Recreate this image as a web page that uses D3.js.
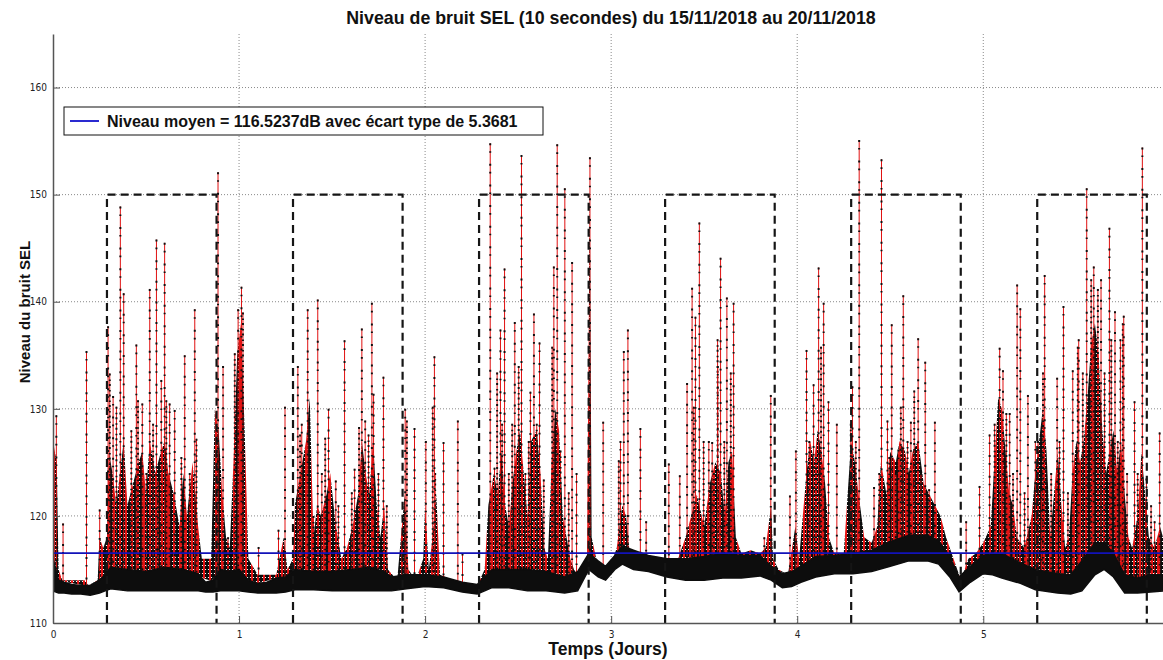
<!DOCTYPE html>
<html>
<head>
<meta charset="utf-8">
<script src="https://cdn.jsdelivr.net/npm/d3@7"></script>
<style>
  body { margin: 0; background: #fff; }
  svg { display: block; }
  .tick text { font-family: "Liberation Sans Narrow", "DejaVu Sans Condensed", sans-serif; font-size: 10px; fill: #222; }
</style>
</head>
<body>
<div id="chart"></div>
<script>
// axis ticks
var dayTicks = [0, 1, 2, 3, 4, 5];
var levelTicks = [110, 120, 130, 140, 150, 160];
var meanLevel = 116.5237;
var legendLabel = "Niveau moyen = 116.5237dB avec écart type de 5.3681";

// daytime windows (dashed boxes), in days
var boxStart = [0.29, 1.29, 2.29, 3.29, 4.29, 5.29];
var boxEnd = [0.879, 1.879, 2.879, 3.879, 4.879, 5.879];
var boxLevel = 150;

// lower / upper edge of the solid background band (dB)
var baseT = [0.00, 0.03, 0.06, 0.10, 0.15, 0.20, 0.25, 0.28, 0.31, 0.40, 0.50, 0.60, 0.70, 0.78, 0.82, 0.86, 0.90, 0.95, 1.00, 1.05,
  1.10, 1.15, 1.20, 1.25, 1.30, 1.40, 1.50, 1.60, 1.70, 1.78, 1.82, 1.90, 2.00, 2.10, 2.20, 2.28, 2.32, 2.36, 2.45, 2.55,
  2.65, 2.75, 2.82, 2.88, 2.93, 2.97, 3.02, 3.06, 3.12, 3.20, 3.30, 3.40, 3.50, 3.60, 3.70, 3.80, 3.86, 3.92, 3.97, 4.02,
  4.10, 4.20, 4.30, 4.40, 4.50, 4.60, 4.70, 4.76, 4.82, 4.87, 4.93, 5.00, 5.05, 5.10, 5.20, 5.28, 5.40, 5.47, 5.53, 5.60,
  5.65, 5.70, 5.76, 5.83, 5.90, 5.966];
var baseLo = [113.0, 112.8, 112.8, 112.7, 112.7, 112.6, 112.8, 113.0, 113.2, 113.0, 113.0, 113.0, 113.0, 113.0, 112.9, 112.9, 113.0, 113.0, 113.0, 112.9,
  112.8, 112.8, 112.8, 112.9, 113.1, 113.1, 113.0, 113.0, 113.0, 113.0, 113.0, 113.2, 113.4, 113.3, 112.9, 112.7, 113.0, 113.3, 113.3, 113.0,
  113.0, 112.8, 113.0, 115.0, 114.3, 114.0, 115.0, 115.5, 115.0, 114.8, 114.3, 114.0, 114.0, 114.2, 114.2, 114.4, 114.0, 113.3, 113.4, 113.8,
  114.3, 114.6, 114.6, 114.8, 115.3, 115.8, 115.8, 115.5, 114.3, 112.9, 113.8, 114.6, 114.5, 114.2, 113.7, 113.1, 112.8, 112.7, 113.0, 114.5,
  115.0, 114.3, 112.8, 112.8, 112.9, 113.0];
var baseHi = [116.0, 114.0, 113.8, 113.6, 113.5, 113.5, 114.0, 114.5, 115.2, 115.0, 114.8, 115.2, 115.0, 114.6, 113.8, 114.0, 115.0, 114.8, 115.0, 114.0,
  113.7, 113.8, 114.2, 114.3, 115.0, 114.8, 114.8, 115.0, 115.2, 114.8, 114.3, 114.5, 114.5, 114.3, 113.8, 113.6, 114.3, 115.0, 115.0, 115.0,
  114.8, 114.3, 114.8, 116.5, 115.8, 115.3, 116.3, 117.2, 116.8, 116.3, 116.0, 116.0, 116.2, 116.5, 116.3, 116.3, 115.3, 114.6, 114.8, 115.3,
  116.2, 116.3, 116.5, 116.8, 117.6, 118.2, 118.2, 117.7, 116.2, 114.3, 115.3, 116.3, 116.5, 116.5, 115.6, 115.0, 114.6, 114.5, 115.8, 117.5,
  117.5, 116.5, 114.5, 114.2, 114.5, 114.5];

// top of the dense bursts of activity (dB)
var actT = [0.00, 0.02, 0.03, 0.05, 0.17, 0.19, 0.24, 0.25, 0.27, 0.29, 0.30, 0.32, 0.34, 0.36, 0.38, 0.40, 0.43, 0.46, 0.48, 0.50,
  0.52, 0.55, 0.58, 0.60, 0.62, 0.65, 0.68, 0.70, 0.72, 0.75, 0.78, 0.80, 0.85, 0.87, 0.89, 0.91, 0.93, 0.95, 0.97, 0.99,
  1.01, 1.03, 1.05, 1.10, 1.20, 1.24, 1.26, 1.29, 1.30, 1.33, 1.36, 1.38, 1.40, 1.42, 1.44, 1.47, 1.49, 1.52, 1.55, 1.58,
  1.61, 1.64, 1.66, 1.68, 1.70, 1.72, 1.74, 1.76, 1.78, 1.80, 1.85, 1.89, 1.91, 1.95, 1.99, 2.00, 2.02, 2.04, 2.06, 2.08,
  2.15, 2.20, 2.28, 2.32, 2.34, 2.37, 2.39, 2.41, 2.43, 2.45, 2.47, 2.49, 2.51, 2.53, 2.55, 2.57, 2.60, 2.62, 2.64, 2.66,
  2.68, 2.70, 2.72, 2.74, 2.76, 2.78, 2.80, 2.84, 2.87, 2.885, 2.895, 2.92, 2.95, 2.97, 3.00, 3.03, 3.06, 3.08, 3.10, 3.15,
  3.25, 3.30, 3.35, 3.40, 3.43, 3.46, 3.50, 3.53, 3.56, 3.59, 3.61, 3.63, 3.65, 3.67, 3.70, 3.75, 3.80, 3.83, 3.86, 3.87,
  3.90, 3.95, 3.99, 4.01, 4.03, 4.05, 4.07, 4.09, 4.11, 4.13, 4.15, 4.17, 4.20, 4.25, 4.29, 4.31, 4.33, 4.36, 4.40, 4.43,
  4.45, 4.48, 4.50, 4.53, 4.55, 4.58, 4.60, 4.62, 4.65, 4.68, 4.71, 4.74, 4.77, 4.80, 4.85, 4.88, 4.92, 4.96, 5.00, 5.04,
  5.06, 5.08, 5.10, 5.12, 5.14, 5.16, 5.18, 5.22, 5.26, 5.28, 5.30, 5.32, 5.34, 5.36, 5.38, 5.40, 5.42, 5.44, 5.46, 5.48,
  5.50, 5.52, 5.54, 5.56, 5.58, 5.60, 5.62, 5.64, 5.66, 5.68, 5.70, 5.72, 5.74, 5.76, 5.78, 5.80, 5.83, 5.85, 5.87, 5.89,
  5.92, 5.95, 5.966];
var actTop = [127, 125, 115, 114, 114, 113.5, 114, 118, 117, 118, 126, 124, 121, 124, 127, 121, 123, 125, 126, 122,
  127, 124, 126, 127, 124, 122, 119, 124, 120, 125, 119, 116, 116, 130, 128, 122, 118, 117, 125, 135,
  138, 128, 116, 114.5, 114.5, 118, 115, 116, 121, 124, 127, 131, 118, 121, 120, 122, 124, 119, 116, 117,
  119, 122, 127, 124, 122, 127, 121, 118, 121, 115, 114, 122, 115, 114, 116, 121, 115, 118, 122, 114.5,
  114, 113.5, 113.5, 115, 121, 124, 122, 126, 121, 119, 123, 126, 128, 124, 120, 127, 128, 124, 117, 116,
  125, 130, 128, 120, 118, 116, 115, 114, 116, 150, 118, 116, 115, 114.5, 115.5, 117, 121, 120, 116.5, 116,
  115.5, 116, 115.5, 118, 120, 122, 119, 123, 125, 124, 120, 125, 126, 118, 116.5, 116.8, 116.5, 117, 121, 116,
  115, 114.5, 119, 116, 120, 124, 127, 125, 128, 126, 123, 118, 116.5, 116.5, 127, 125, 122, 118, 117.5, 119,
  125, 122, 126, 125, 127, 126, 124, 126, 127, 123, 122, 121, 120, 118, 115.5, 114, 116, 116.5, 117.5, 119,
  125, 131, 130, 126, 122, 121, 118, 117, 120, 124, 127, 130, 126, 118, 122, 126, 121, 117, 118, 124,
  127, 125, 127, 131, 136, 138, 135, 128, 124, 126, 128, 124, 127, 122, 118, 117, 120, 126, 122, 118,
  117, 119, 118];

// main peaks: time (days) and peak level (dB)
var spikeT = [0.018, 0.054, 0.180, 0.251, 0.296, 0.323, 0.362, 0.380, 0.448, 0.480, 0.520, 0.556, 0.582, 0.600, 0.627, 0.654, 0.708, 0.762, 0.887, 0.914,
  0.995, 1.013, 1.105, 1.212, 1.247, 1.316, 1.337, 1.369, 1.423, 1.445, 1.481, 1.520, 1.567, 1.621, 1.660, 1.678, 1.714, 1.723, 1.776, 1.893,
  1.943, 2.004, 2.050, 2.099, 2.176, 2.201, 2.350, 2.373, 2.405, 2.427, 2.482, 2.518, 2.566, 2.585, 2.615, 2.692, 2.710, 2.751, 2.790, 2.814,
  2.886, 2.957, 3.050, 3.068, 3.090, 3.157, 3.188, 3.310, 3.369, 3.408, 3.435, 3.453, 3.474, 3.525, 3.543, 3.573, 3.588, 3.622, 3.658, 3.823,
  3.858, 3.961, 3.993, 4.050, 4.088, 4.115, 4.142, 4.168, 4.213, 4.297, 4.333, 4.413, 4.453, 4.485, 4.508, 4.544, 4.570, 4.611, 4.650, 4.688,
  4.740, 4.908, 4.980, 5.034, 5.088, 5.106, 5.142, 5.182, 5.199, 5.240, 5.280, 5.312, 5.330, 5.397, 5.431, 5.481, 5.513, 5.556, 5.594, 5.633,
  5.678, 5.708, 5.737, 5.755, 5.773, 5.813, 5.855, 5.877, 5.921, 5.948];
var spikeTop = [129.4, 119.3, 135.4, 120.6, 137.7, 131.2, 148.9, 140.8, 136.0, 130.5, 141.2, 145.8, 132.7, 145.5, 130.5, 129.9, 135.0, 139.3, 152.1, 134.0,
  139.3, 141.4, 117.1, 118.7, 130.2, 134.0, 128.6, 139.3, 140.2, 124.0, 130.0, 123.3, 136.4, 124.4, 137.5, 128.9, 139.9, 131.4, 133.0, 130.0,
  128.2, 127.0, 134.9, 126.9, 128.9, 116.5, 154.8, 124.5, 137.4, 143.1, 138.1, 153.7, 131.6, 138.9, 136.2, 143.3, 154.7, 150.6, 143.7, 124.0,
  153.5, 128.8, 127.0, 135.4, 137.4, 128.2, 119.5, 124.9, 123.8, 132.4, 141.3, 138.6, 147.4, 127.0, 126.9, 134.0, 144.1, 140.4, 139.9, 118.0,
  131.3, 121.9, 126.1, 135.5, 132.3, 143.2, 139.9, 130.7, 128.6, 132.1, 155.1, 122.7, 153.3, 128.9, 137.9, 126.2, 140.6, 128.8, 136.6, 134.4,
  128.8, 119.5, 122.8, 127.6, 135.7, 133.6, 129.6, 141.6, 139.4, 131.3, 127.0, 122.5, 142.5, 132.9, 139.6, 133.6, 136.5, 150.6, 143.3, 142.1,
  146.9, 139.1, 136.5, 138.7, 124.0, 130.7, 154.4, 123.5, 119.5, 127.8];

// smaller peaks inside the bursts
var minorT = [0.305, 0.341, 0.421, 0.457, 0.502, 0.538, 0.565, 0.609, 0.690, 0.735, 0.771, 0.941, 0.977, 1.021, 1.328, 1.400, 1.463, 1.534, 1.606, 1.645,
  1.696, 1.749, 1.794, 1.902, 2.041, 2.054, 2.387, 2.414, 2.450, 2.468, 2.503, 2.539, 2.557, 2.600, 2.638, 2.683, 2.728, 2.772, 3.041, 3.444,
  3.497, 3.552, 3.572, 3.608, 3.643, 4.065, 4.101, 4.128, 4.288, 4.315, 4.441, 4.495, 4.530, 4.557, 4.593, 4.629, 4.665, 4.709, 5.061, 5.124,
  5.160, 5.222, 5.294, 5.321, 5.365, 5.410, 5.455, 5.508, 5.535, 5.580, 5.616, 5.652, 5.688, 5.723, 5.750, 5.830, 5.902];
var minorTop = [133.3, 130.2, 128.0, 130.8, 124.0, 128.6, 123.4, 130.8, 125.5, 124.0, 127.2, 118.0, 135.2, 139.0, 127.6, 120.0, 127.3, 121.0, 122.2, 128.3,
  127.6, 124.0, 121.0, 128.9, 130.2, 124.0, 133.4, 128.6, 124.0, 128.6, 134.0, 124.0, 127.0, 128.6, 123.4, 135.8, 126.1, 122.2, 125.2, 130.2,
  127.0, 124.0, 136.5, 127.0, 133.4, 127.0, 125.5, 135.8, 128.6, 127.0, 124.0, 125.5, 124.0, 130.2, 127.0, 131.7, 124.0, 122.5, 128.6, 129.6,
  124.0, 122.2, 127.0, 133.4, 124.0, 127.0, 122.2, 135.8, 133.4, 142.1, 141.2, 133.4, 136.5, 127.0, 138.0, 124.0, 121.0];

var svgWidth = 1163;
var svgHeight = 660;
var margin = { top: 34, right: 0, bottom: 37, left: 53 };
var width = svgWidth - margin.left - margin.right;
var height = svgHeight - margin.top - margin.bottom;

var svg = d3.select("#chart").append("svg")
  .attr("width", svgWidth)
  .attr("height", svgHeight);

var defs = svg.append("defs");
var pat = defs.append("pattern")
  .attr("id", "burst")
  .attr("patternUnits", "userSpaceOnUse")
  .attr("width", 6)
  .attr("height", 4);
pat.append("rect").attr("x", 0).attr("y", 0).attr("width", 2).attr("height", 4).attr("fill", "#e41414");
pat.append("rect").attr("x", 2).attr("y", 0).attr("width", 4).attr("height", 3).attr("fill", "#0c0c0c");
pat.append("rect").attr("x", 3).attr("y", 3).attr("width", 2).attr("height", 1).attr("fill", "#1c1c1c");

var clip = defs.append("clipPath").attr("id", "plotclip");
clip.append("rect").attr("width", width).attr("height", height);

var chartGroup = svg.append("g")
  .attr("transform", `translate(${margin.left}, ${margin.top})`);

var xLinearScale = d3.scaleLinear().domain([0, 5.966]).range([0, width]);
var yLinearScale = d3.scaleLinear().domain([110, 165]).range([height, 0]);

// grid
chartGroup.append("g").selectAll("line")
  .data(dayTicks.slice(1))
  .enter().append("line")
  .attr("x1", (d) => xLinearScale(d)).attr("x2", (d) => xLinearScale(d))
  .attr("y1", 0).attr("y2", height)
  .attr("stroke", "#8a8a8a").attr("stroke-width", 1).attr("stroke-dasharray", "1,2");
chartGroup.append("g").selectAll("line")
  .data(levelTicks.slice(1))
  .enter().append("line")
  .attr("x1", 0).attr("x2", width)
  .attr("y1", (d) => yLinearScale(d)).attr("y2", (d) => yLinearScale(d))
  .attr("stroke", "#8a8a8a").attr("stroke-width", 1).attr("stroke-dasharray", "1,2");

var dataGroup = chartGroup.append("g").attr("clip-path", "url(#plotclip)");

var baseRows = baseT.map((t, i) => ({ t: t, lo: baseLo[i], hi: baseHi[i] }));
var actRows = actT.map((t, i) => ({ t: t, top: actTop[i] }));
var bisect = d3.bisector((d) => d.t).left;
function baseAt(t) {
  var i = Math.max(1, Math.min(baseRows.length - 1, bisect(baseRows, t)));
  var a = baseRows[i - 1], b = baseRows[i];
  var k = (t - a.t) / (b.t - a.t);
  return a.hi + (b.hi - a.hi) * k;
}

// bursts of activity
var actArea = d3.area()
  .x((d) => xLinearScale(d.t))
  .y0((d) => yLinearScale(Math.min(baseAt(d.t), d.top)))
  .y1((d) => yLinearScale(d.top));
dataGroup.append("path")
  .datum(actRows)
  .attr("d", actArea)
  .attr("fill", "url(#burst)");

// peaks: red line with black sample dots
function drawPeaks(list, cls, dash) {
  dataGroup.selectAll("." + cls + "Line")
    .data(list).enter().append("line")
    .attr("class", cls + "Line")
    .attr("x1", (d) => xLinearScale(d.t)).attr("x2", (d) => xLinearScale(d.t))
    .attr("y1", (d) => yLinearScale(d.top)).attr("y2", (d) => yLinearScale(baseAt(d.t)))
    .attr("stroke", "#e01010").attr("stroke-width", 1);
  dataGroup.selectAll("." + cls + "Dots")
    .data(list).enter().append("line")
    .attr("class", cls + "Dots")
    .attr("x1", (d) => xLinearScale(d.t)).attr("x2", (d) => xLinearScale(d.t))
    .attr("y1", (d) => yLinearScale(d.top)).attr("y2", (d) => yLinearScale(baseAt(d.t)))
    .attr("stroke", "#111").attr("stroke-width", 2).attr("stroke-dasharray", dash);
}
drawPeaks(minorT.map((t, i) => ({ t: t, top: minorTop[i] })), "minor", "2,4,1.5,3");
drawPeaks(spikeT.map((t, i) => ({ t: t, top: spikeTop[i] })), "spike", "2,6,1.6,11");

// background band
var baseArea = d3.area()
  .x((d) => xLinearScale(d.t))
  .y0((d) => yLinearScale(d.lo))
  .y1((d) => yLinearScale(d.hi));
dataGroup.append("path")
  .datum(baseRows)
  .attr("d", baseArea)
  .attr("fill", "#0d0d0d")
  .attr("stroke", "#0d0d0d").attr("stroke-width", 1.5);

// daytime boxes
var boxes = boxStart.map((s, i) => ({ s: s, e: boxEnd[i] }));
chartGroup.selectAll(".dayBox")
  .data(boxes).enter().append("path")
  .attr("class", "dayBox")
  .attr("d", (d) => `M${xLinearScale(d.s)},${yLinearScale(110)}V${yLinearScale(boxLevel)}H${xLinearScale(d.e)}V${yLinearScale(110)}`)
  .attr("fill", "none")
  .attr("stroke", "#151515").attr("stroke-width", 2.2).attr("stroke-dasharray", "8,5");

// mean level
chartGroup.append("line")
  .attr("x1", 0).attr("x2", width)
  .attr("y1", yLinearScale(meanLevel)).attr("y2", yLinearScale(meanLevel))
  .attr("stroke", "#1212b8").attr("stroke-width", 1.6);

// axes, ticks inward
var bottomAxis = d3.axisBottom(xLinearScale).tickValues(dayTicks).tickFormat(d3.format("d")).tickSizeInner(-7).tickSizeOuter(0).tickPadding(8);
var leftAxis = d3.axisLeft(yLinearScale).tickValues(levelTicks).tickFormat(d3.format("d")).tickSizeInner(-7).tickSizeOuter(0).tickPadding(6);
var xAxis = chartGroup.append("g").attr("transform", `translate(0, ${height})`).call(bottomAxis);
var yAxis = chartGroup.append("g").call(leftAxis);
[xAxis, yAxis].forEach(function (ax) {
  ax.select(".domain").attr("stroke", "#555").attr("stroke-width", 1.5);
  ax.selectAll(".tick line").attr("stroke", "#555");
});

// legend
var legend = chartGroup.append("g").attr("transform", "translate(11, 73)");
legend.append("rect").attr("width", 479).attr("height", 28)
  .attr("fill", "#fff").attr("stroke", "#111").attr("stroke-width", 1);
legend.append("line").attr("x1", 6).attr("x2", 35).attr("y1", 14).attr("y2", 14)
  .attr("stroke", "#2a2ad0").attr("stroke-width", 2);
legend.append("text").attr("x", 43).attr("y", 20)
  .attr("font-family", "Liberation Sans, Arial, sans-serif").attr("font-weight", "bold").attr("font-size", "16px")
  .attr("fill", "#111").text(legendLabel);

// titles
svg.append("text").attr("x", 611).attr("y", 24).attr("text-anchor", "middle")
  .attr("font-family", "Liberation Sans, Arial, sans-serif").attr("font-weight", "bold").attr("font-size", "17.8px")
  .attr("fill", "#111").text("Niveau de bruit SEL (10 secondes) du 15/11/2018 au 20/11/2018");
svg.append("text").attr("x", 608).attr("y", 655).attr("text-anchor", "middle")
  .attr("font-family", "Liberation Sans, Arial, sans-serif").attr("font-weight", "bold").attr("font-size", "17.5px")
  .attr("fill", "#111").text("Temps (Jours)");
svg.append("text").attr("transform", "translate(30, 312) rotate(-90)").attr("text-anchor", "middle")
  .attr("font-family", "Liberation Sans, Arial, sans-serif").attr("font-weight", "bold").attr("font-size", "15px")
  .attr("fill", "#111").text("Niveau du bruit SEL");
</script>
</body>
</html>
